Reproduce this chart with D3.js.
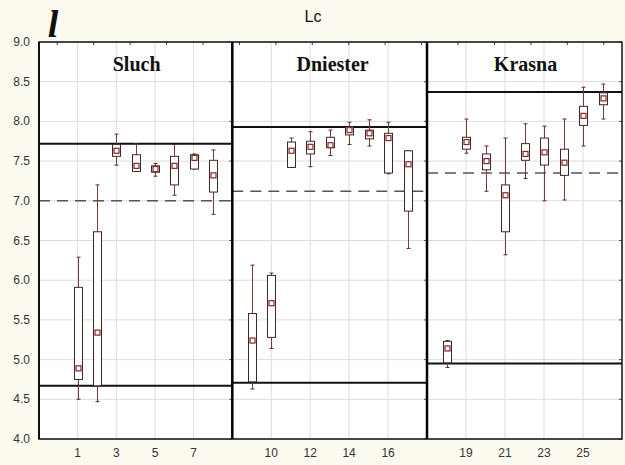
<!DOCTYPE html>
<html>
<head>
<meta charset="utf-8">
<script src="https://cdn.jsdelivr.net/npm/d3@7"></script>
<style>
  html, body { margin: 0; padding: 0; background: #fdfbf0; }
  svg { display: block; }
</style>
</head>
<body>
<svg id="chart" width="625" height="465"></svg>
<script>
// ---------------- data ----------------
const panelNames = ["Sluch", "Dniester", "Krasna"];
const panelDomains = [[-1, 9], [8, 18], [17, 27]];
const xTickLabels = [[1, 3, 5, 7], [10, 12, 14, 16], [19, 21, 23, 25]];
const yTicks = [4.0, 4.5, 5.0, 5.5, 6.0, 6.5, 7.0, 7.5, 8.0, 8.5, 9.0];
const upperLine = [7.72, 7.93, 8.37];
const lowerLine = [4.67, 4.71, 4.95];
const dashedLine = [7.00, 7.12, 7.35];

const groupId    = [1, 2, 3, 4, 5, 6, 7, 8, 9, 10, 11, 12, 13, 14, 15, 16, 17, 18, 19, 20, 21, 22, 23, 24, 25, 26];
const groupPanel = [0, 0, 0, 0, 0, 0, 0, 0, 1, 1, 1, 1, 1, 1, 1, 1, 1, 2, 2, 2, 2, 2, 2, 2, 2, 2];
const whiskerMax = [6.29, 7.20, 7.84, 7.72, 7.47, 7.71, 7.59, 7.64, 6.19, 6.09, 7.79, 7.87, 7.89, 7.99, 8.02, 7.99, 7.63, 5.24, 8.03, 7.69, 7.79, 7.97, 7.94, 8.03, 8.43, 8.47];
const boxTop     = [5.91, 6.61, 7.71, 7.58, 7.44, 7.56, 7.58, 7.51, 5.58, 6.06, 7.74, 7.75, 7.80, 7.93, 7.89, 7.85, 7.63, 5.23, 7.80, 7.59, 7.20, 7.72, 7.79, 7.65, 8.19, 8.36];
const median     = [4.89, 5.34, 7.63, 7.44, 7.40, 7.44, 7.54, 7.32, 5.24, 5.71, 7.63, 7.68, 7.70, 7.89, 7.85, 7.79, 7.46, 5.14, 7.74, 7.50, 7.07, 7.59, 7.61, 7.48, 8.07, 8.29];
const boxBottom  = [4.75, 4.67, 7.56, 7.37, 7.36, 7.20, 7.40, 7.11, 4.72, 5.28, 7.42, 7.59, 7.67, 7.83, 7.78, 7.35, 6.87, 4.96, 7.65, 7.39, 6.61, 7.51, 7.45, 7.32, 7.95, 8.21];
const whiskerMin = [4.50, 4.47, 7.45, 7.37, 7.31, 7.07, 7.40, 6.83, 4.63, 5.14, 7.42, 7.43, 7.57, 7.71, 7.69, 7.34, 6.40, 4.90, 7.60, 7.12, 6.32, 7.28, 7.00, 7.01, 7.69, 8.03];
const topTickCount = 16;

// ---------------- layout ----------------
const svg = d3.select("#chart");
const plotLeft = 39, plotRight = 622, plotTop = 42, plotBottom = 439;
const panelEdges = [plotLeft, 232.3, 427, plotRight];

svg.append("rect").attr("width", 625).attr("height", 465).attr("fill", "#fdfbf0");
svg.append("rect").attr("x", plotLeft).attr("y", plotTop)
  .attr("width", plotRight - plotLeft).attr("height", plotBottom - plotTop).attr("fill", "#ffffff");

const y = d3.scaleLinear().domain([4, 9]).range([plotBottom, plotTop]);
const xScales = panelDomains.map((d, i) => d3.scaleLinear().domain(d).range([panelEdges[i], panelEdges[i + 1]]));

// horizontal grid
svg.append("g").selectAll("line").data(yTicks).join("line")
  .attr("x1", plotLeft).attr("x2", plotRight)
  .attr("y1", d => y(d)).attr("y2", d => y(d))
  .attr("stroke", "#dcdcdc").attr("stroke-width", 1);

// vertical grid + x tick labels per panel
xScales.forEach((xs, i) => {
  const g = svg.append("g");
  g.selectAll("line").data(xTickLabels[i]).join("line")
    .attr("x1", d => xs(d)).attr("x2", d => xs(d))
    .attr("y1", plotTop).attr("y2", plotBottom)
    .attr("stroke", "#dcdcdc").attr("stroke-width", 1);
  g.selectAll("text").data(xTickLabels[i]).join("text")
    .attr("x", d => xs(d)).attr("y", 457)
    .attr("text-anchor", "middle")
    .attr("font-family", "Liberation Sans, Arial, sans-serif")
    .attr("font-size", 12).attr("fill", "#333")
    .text(d => d);
  // right-side inward y ticks
  g.append("g").selectAll("line").data(yTicks).join("line")
    .attr("x1", panelEdges[i + 1] - 3).attr("x2", panelEdges[i + 1])
    .attr("y1", d => y(d)).attr("y2", d => y(d))
    .attr("stroke", "#555").attr("stroke-width", 1);
});

// top ticks (uniform across whole chart)
const xTop = d3.scaleLinear().domain([0, topTickCount]).range([plotLeft, plotRight]);
svg.append("g").selectAll("line").data(d3.range(topTickCount)).join("line")
  .attr("x1", d => xTop(d + 0.5)).attr("x2", d => xTop(d + 0.5))
  .attr("y1", plotTop).attr("y2", plotTop + 3)
  .attr("stroke", "#444").attr("stroke-width", 1);

// y axis labels
svg.append("g").selectAll("text").data(yTicks).join("text")
  .attr("x", 30).attr("y", d => y(d) + 4)
  .attr("text-anchor", "end")
  .attr("font-family", "Liberation Sans, Arial, sans-serif")
  .attr("font-size", 12).attr("fill", "#333")
  .text(d => d.toFixed(1));

// reference lines per panel
xScales.forEach((xs, i) => {
  const x0 = panelEdges[i], x1 = panelEdges[i + 1];
  svg.append("line").attr("x1", x0).attr("x2", x1)
    .attr("y1", y(dashedLine[i])).attr("y2", y(dashedLine[i]))
    .attr("stroke", "#555").attr("stroke-width", 1.5).attr("stroke-dasharray", "11,7");
  [upperLine[i], lowerLine[i]].forEach(v => {
    svg.append("line").attr("x1", x0).attr("x2", x1)
      .attr("y1", y(v)).attr("y2", y(v))
      .attr("stroke", "#111").attr("stroke-width", 2);
  });
});

// boxes
const boxW = 8, capW = 4, markW = 5;
const gBox = svg.append("g");
groupId.forEach((id, k) => {
  const xs = xScales[groupPanel[k]];
  const cx = Math.round(xs(id)) + 0.5;
  const g = gBox.append("g");
  g.append("line").attr("x1", cx).attr("x2", cx)
    .attr("y1", y(whiskerMax[k])).attr("y2", y(whiskerMin[k]))
    .attr("stroke", "#7a3a3a").attr("stroke-width", 1);
  [whiskerMax[k], whiskerMin[k]].forEach(v => {
    g.append("line").attr("x1", cx - capW / 2).attr("x2", cx + capW / 2)
      .attr("y1", y(v)).attr("y2", y(v))
      .attr("stroke", "#5a2a2a").attr("stroke-width", 1);
  });
  g.append("rect").attr("x", cx - boxW / 2).attr("y", y(boxTop[k]))
    .attr("width", boxW).attr("height", Math.max(1, y(boxBottom[k]) - y(boxTop[k])))
    .attr("fill", "#ffffff").attr("stroke", "#3a2a2a").attr("stroke-width", 1);
  g.append("rect").attr("x", cx - markW / 2).attr("y", y(median[k]) - markW / 2)
    .attr("width", markW).attr("height", markW)
    .attr("fill", "#ffffff").attr("stroke", "#8b2323").attr("stroke-width", 1.2);
});

// frame and dividers
svg.append("rect").attr("x", plotLeft).attr("y", plotTop)
  .attr("width", plotRight - plotLeft).attr("height", plotBottom - plotTop)
  .attr("fill", "none").attr("stroke", "#111").attr("stroke-width", 1.5);
svg.append("line").attr("x1", plotLeft).attr("x2", plotLeft).attr("y1", plotTop).attr("y2", plotBottom)
  .attr("stroke", "#111").attr("stroke-width", 2);
[panelEdges[1], panelEdges[2]].forEach(px => {
  svg.append("line").attr("x1", px).attr("x2", px).attr("y1", plotTop).attr("y2", plotBottom)
    .attr("stroke", "#000").attr("stroke-width", 2.5);
});

// panel names
panelNames.forEach((n, i) => {
  svg.append("text")
    .attr("x", (panelEdges[i] + panelEdges[i + 1]) / 2 + (i === 1 ? 3 : 1))
    .attr("y", 71)
    .attr("text-anchor", "middle")
    .attr("font-family", "Liberation Serif, Times New Roman, serif")
    .attr("font-weight", "bold").attr("font-size", 20).attr("fill", "#111")
    .text(n);
});

// title and panel letter
svg.append("text").attr("x", 313).attr("y", 22).attr("text-anchor", "middle")
  .attr("font-family", "Liberation Sans, Arial, sans-serif").attr("font-size", 16).attr("fill", "#111")
  .text("Lc");
svg.append("text").attr("x", 53).attr("y", 37).attr("text-anchor", "middle")
  .attr("font-family", "Liberation Serif, Times New Roman, serif")
  .attr("font-weight", "bold").attr("font-style", "italic").attr("font-size", 38).attr("fill", "#111")
  .text("l");
</script>
</body>
</html>
